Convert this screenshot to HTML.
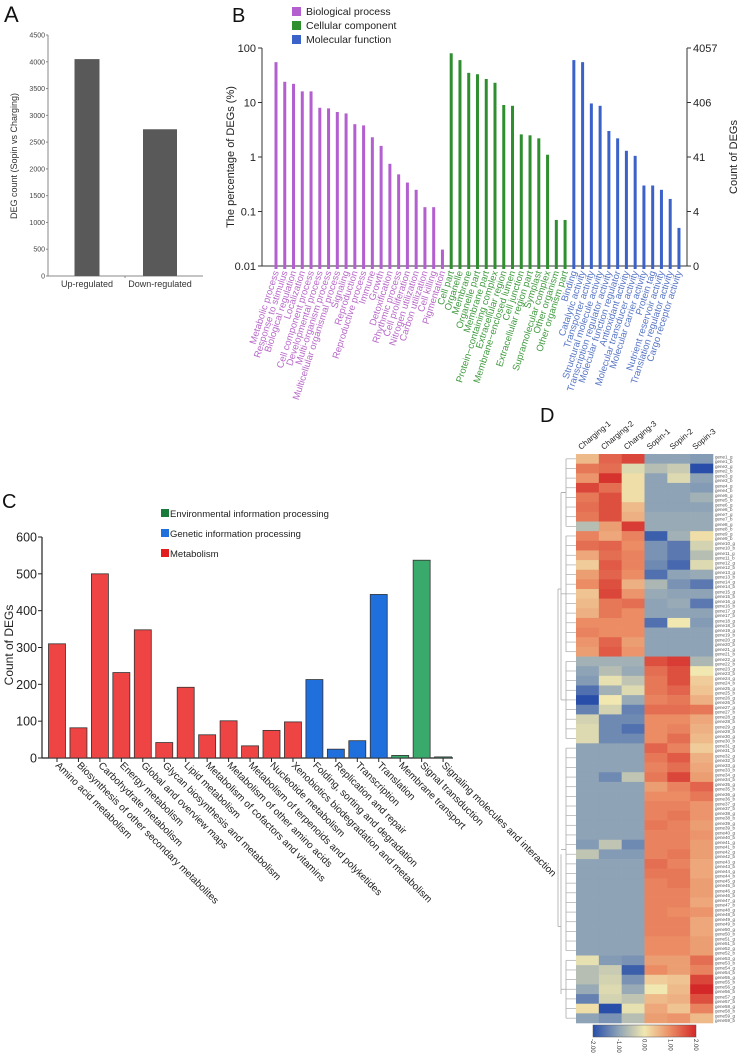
<!DOCTYPE html>
<html><head><meta charset="utf-8">
<style>
html,body{margin:0;padding:0;background:#fff;}
svg{display:block;font-family:"Liberation Sans",Arial,sans-serif;}
</style></head>
<body>
<svg id="fig" width="744" height="1058" viewBox="0 0 744 1058"></svg>
<script>
// ---- Panel A data ----
const aCats = ["Up-regulated","Down-regulated"];
const aVals = [4050, 2740];
const aTicks = [0,500,1000,1500,2000,2500,3000,3500,4000,4500];
// ---- Panel B data ----
const bpNames = ["Metabolic process","Response to stimulus","Biological regulation","Localization","Cell component process","Developmental process","Multi-organism process","Multicellular organismal process","Signaling","Reproduction","Reproductive process","Immune","Growth","Detoxification","Rhythmic process","Cell proliferation","Nitrogen utilization","Carbon utilization","Cell killing","Pigmentation"];
const bpVals = [55,24,22,16,16,8,7.8,6.7,6.3,4,3.8,2.3,1.6,0.75,0.48,0.34,0.25,0.12,0.12,0.02];
const ccNames = ["Cell part","Organelle","Membrane","Organelle part","Membrane part","Protein\u2212containing complex","Extracellular region","Membrane\u2212enclosed lumen","Cell junction","Extracellular region part","Symplast","Supramolecular complex","Other organism","Other organism part"];
const ccVals = [80,60,35,33,27,23,9,8.7,2.6,2.5,2.2,1.1,0.07,0.07];
const mfNames = ["Binding","Catalytic activity","Transporter activity","Structural molecule activity","Transcription regulator activity","Molecular function regulator","Antioxidant activity","Molecular transducer activity","Molecular carrier activity","Protein tag","Nutrient reservoir activity","Translation regulator activity","Cargo receptor activity"];
const mfVals = [60,55,9.6,8.7,3,2.2,1.3,1.05,0.3,0.3,0.25,0.17,0.05];
const bTicks = [0.01,0.1,1,10,100];
const bTickLabels = ["0.01","0.1","1","10","100"];
const bRightLabels = ["0","4","41","406","4057"];
// ---- Panel C data ----
const cNames = ["Amino acid metabolism","Biosynthesis of other secondary metabolites","Carbohydrate metabolism","Energy metabolism","Global and overview maps","Glycan biosynthesis and metabolism","Lipid metabolism","Metabolism of cofactors and vitamins","Metabolism of other amino acids","Metabolism of terpenoids and polyketides","Nucleotide metabolism","Xenobiotics biodegradation and metabolism","Folding, sorting and degradation","Replication and repair","Transcription","Translation","Membrane transport","Signal transduction","Signaling molecules and interaction"];
const cVals = [310,82,500,232,348,42,192,63,101,33,75,98,213,24,47,444,7,537,3];
const cGroups = [2,2,2,2,2,2,2,2,2,2,2,2,1,1,1,1,0,0,0];
const cTicks = [0,100,200,300,400,500,600];
// ---- Panel D data ----
const dCols = ["Charging-1","Charging-2","Charging-3","Sopin-1","Sopin-2","Sopin-3"];
const dRows = [
[0.5,1.4,1.7,-1,-1,-1.1],[1.2,1.3,-0.2,-0.6,-0.4,-2],[0.9,1.9,0.1,-1,-0.2,-1],[1.7,1.3,0.1,-1,-1,-1.1],
[1.2,1.6,0.1,-1,-1,-0.8],[1.3,1.6,0.5,-1,-1,-1],[1.2,1.6,0.6,-0.9,-0.9,-0.9],[-0.6,0.8,1.8,-0.9,-0.9,-0.9],
[1.1,0.7,1.1,-1.8,-0.8,0.1],[1.3,1.4,1.0,-1.2,-1.5,-0.3],[0.7,1.3,1.1,-1.2,-1.5,-0.6],[0.3,1.5,1.1,-1.3,-1.7,-0.2],
[0.8,1.4,1.0,-1.6,-1.0,-0.9],[1.0,1.6,0.6,-0.7,-1.2,-1.5],[0.4,1.7,0.9,-0.9,-1.0,-1.0],[0.5,1.2,1.3,-1.0,-0.9,-1.5],
[0.6,1.2,1.0,-1.0,-1.0,-1.0],[1.0,1.0,1.0,-1.6,0.0,-1.1],[1.1,1.0,1.0,-1.0,-1.0,-1.0],[0.9,1.4,0.8,-1.0,-1.0,-1.0],
[0.8,1.5,0.9,-1.0,-1.0,-1.0],
[-0.8,-0.8,-0.8,1.6,1.8,-0.7],[-1.0,-0.6,-0.9,1.3,1.6,0.0],[-1.1,-0.1,-0.5,1.2,1.6,0.3],[-1.6,-0.8,-0.2,1.2,1.4,0.4],
[-2.0,0.0,-0.9,1.1,1.2,0.6],[-1.4,-0.3,-1.4,1.3,1.3,1.2],[-0.3,-1.3,-1.3,1.0,1.0,0.7],[-0.2,-1.3,-1.6,1.0,1.1,0.6],
[-0.2,-1.3,-1.3,1.0,1.3,0.5],
[-1,-1,-1,1.4,1.1,0.3],[-1,-1,-1,1.2,1.5,0.6],[-1,-1,-1,1.1,1.3,0.7],[-1,-1.3,-0.5,1.2,1.7,0.8],[-1,-1,-1,0.8,1.1,1.4],
[-1,-1,-1,1.0,1.0,1.2],[-1,-1,-1,1.1,1.1,0.9],[-1,-1,-1,1.1,1.2,0.9],[-1,-1,-1,1.2,1.1,0.8],[-1,-1,-1,1.1,1.1,0.9],
[-1.1,-0.5,-1.3,1.1,1.1,0.8],[-0.5,-1.1,-1.1,1.1,1.2,0.8],[-1,-1,-1,1.3,1.1,0.7],[-1,-1,-1,1.2,1.2,0.7],
[-1,-1,-1,1.1,1.2,0.8],[-1,-1,-1,1.1,1.1,0.8],[-1,-1,-1,1.1,1.1,0.7],[-1,-1,-1,1.1,1.0,0.9],[-1,-1,-1,1.1,1.1,0.7],
[-1,-1,-1,1.1,1.1,0.7],[-1,-1,-1,1.0,1.0,0.8],[-1,-1,-1,1.0,1.0,0.8],
[-0.1,-1.1,-1.2,0.8,0.8,1.3],[-0.6,-0.4,-1.8,1.0,0.8,1.1],[-0.6,-0.3,-1.2,0.3,0.4,1.7],[-0.9,-0.2,-0.9,0.0,0.5,2.0],
[-1.4,-0.3,-0.5,0.5,0.6,1.6],[0.1,-2.0,-0.1,0.7,0.4,1.1],[-1.0,-1.2,-0.6,0.8,0.9,0.5]
];
const dScaleLabels = ["-2.00","-1.00","0.00","1.00","2.00"];
const dScaleVals = [-2,-1,0,1,2];

const NS="http://www.w3.org/2000/svg";
const svg=document.getElementById('fig');
function el(tag,attrs,parent,text){const e=document.createElementNS(NS,tag);for(const k in attrs)e.setAttribute(k,attrs[k]);if(text!==undefined)e.textContent=text;(parent||svg).appendChild(e);return e;}

// ===== Panel A =====
(function(){
const g=el('g',{});


const x0=48,x1=203,y0=276,y1=35,vmax=4500;
const Y=v=>y0-(v/vmax)*(y0-y1);
const t=el('text',{x:4,y:22,'font-size':22,fill:'#111'},g,'A');


el('line',{x1:x0,y1:y1,x2:x0,y2:y0,stroke:'#888','stroke-width':1},g);
el('line',{x1:x0,y1:y0,x2:x1,y2:y0,stroke:'#888','stroke-width':1},g);
aTicks.forEach(v=>{
 el('line',{x1:x0-2,y1:Y(v),x2:x0,y2:Y(v),stroke:'#888'},g);
 const tl=el('text',{x:x0-3,y:Y(v)+2.5,'font-size':7,'text-anchor':'end',fill:'#444'},g,String(v));
 
 
});
const centers=[87,160], w=[25,34];
aVals.forEach((v,i)=>{
 const r=el('rect',{x:centers[i]-w[i]/2,y:Y(v),width:w[i],height:y0-Y(v),fill:'#595959'},g);
 
 
 const l=el('text',{x:centers[i],y:287,'font-size':9,'text-anchor':'middle',fill:'#333'},g,aCats[i]);
 
 
});
el('line',{x1:125,y1:y0,x2:125,y2:y0+2,stroke:'#888'},g);
const yl=el('text',{transform:'translate(17,156) rotate(-90)','font-size':9,'text-anchor':'middle',fill:'#333'},g,'DEG count (Sopin vs Charging)');


})();

// ===== Panel B =====
(function(){
const g=el('g',{});


const xa=262,xr=687,yTop=48,yBot=266;
const Y=v=>yBot-(Math.log10(v)+2)/4*(yBot-yTop);
const t=el('text',{x:232,y:22,'font-size':20,fill:'#111'},g,'B');


const legs=[["Biological process","#b35fd0"],["Cellular component","#2f8f2f"],["Molecular function","#3b62c9"]];
legs.forEach((l,i)=>{
 const r=el('rect',{x:292,y:7+i*14,width:9,height:9,fill:l[1]},g);
 
 
 const tx=el('text',{x:306,y:15+i*14,'font-size':10.5,fill:'#222'},g,l[0]);
 
 
});
el('line',{x1:xa,y1:yTop,x2:xa,y2:yBot,stroke:'#333'},g);
el('line',{x1:xr,y1:yTop,x2:xr,y2:yBot,stroke:'#333'},g);
el('line',{x1:xa,y1:yBot,x2:xr,y2:yBot,stroke:'#333'},g);
bTicks.forEach((v,i)=>{
 el('line',{x1:xa-4,y1:Y(v),x2:xa,y2:Y(v),stroke:'#333'},g);
 el('line',{x1:xr,y1:Y(v),x2:xr+4,y2:Y(v),stroke:'#333'},g);
 const a=el('text',{x:xa-6,y:Y(v)+4,'font-size':11,'text-anchor':'end',fill:'#222'},g,bTickLabels[i]);
 
 
 const b=el('text',{x:xr+6,y:Y(v)+4,'font-size':11,fill:'#222'},g,bRightLabels[i]);
 
 
});
const yl=el('text',{transform:'translate(234,157) rotate(-90)','font-size':11,'text-anchor':'middle',fill:'#222'},g,'The percentage of DEGs (%)');


const yr=el('text',{transform:'translate(737,157) rotate(-90)','font-size':11,'text-anchor':'middle',fill:'#222'},g,'Count of DEGs');


const all=[[bpNames,bpVals,"#b35fd0","#b767c8"],[ccNames,ccVals,"#2f8f2f","#3f9a3f"],[mfNames,mfVals,"#3b62c9","#5574c4"]];
let idx=0;const step=8.76,x0=276;
all.forEach(grp=>{
 grp[0].forEach((n,i)=>{
  const cx=x0+idx*step,v=grp[1][i];
  const r=el('rect',{x:cx-1.5,y:Y(v),width:3,height:yBot-Y(v),fill:grp[2]},g);
  
  
  el('line',{x1:cx,y1:yBot,x2:cx,y2:yBot+3,stroke:grp[2],'stroke-width':3},g);
  const l=el('text',{transform:`translate(${cx+3},${yBot+6}) rotate(-72)`,'font-size':9.5,'text-anchor':'end',fill:grp[3]},g,n);
  
  
  idx++;
 });
});
})();

// ===== Panel C =====
(function(){
const g=el('g',{});


const xa=42,xe=453,y0=758,yTop=537,vmax=600;
const Y=v=>y0-(v/vmax)*(y0-yTop);
const t=el('text',{x:2,y:508,'font-size':20,fill:'#111'},g,'C');


const cols=["#3aaa6c","#1f6fdc","#ef4444"];
const legs=[["Environmental information processing","#1a7a3a"],["Genetic information processing","#1f6fdc"],["Metabolism","#e21d1d"]];
legs.forEach((l,i)=>{
 const r=el('rect',{x:161,y:509+i*20,width:8,height:8,fill:l[1]},g);
 
 
 const tx=el('text',{x:170,y:517+i*20,'font-size':9.5,fill:'#222'},g,l[0]);
 
 
});
el('line',{x1:xa,y1:yTop,x2:xa,y2:y0,stroke:'#222','stroke-width':1.2},g);
el('line',{x1:xa,y1:y0,x2:xe,y2:y0,stroke:'#222','stroke-width':1.2},g);
cTicks.forEach(v=>{
 el('line',{x1:xa-4,y1:Y(v),x2:xa,y2:Y(v),stroke:'#222'},g);
 const a=el('text',{x:xa-5,y:Y(v)+4.5,'font-size':12.5,'text-anchor':'end',fill:'#222'},g,String(v));
 
 
});
const yl=el('text',{transform:'translate(13,645) rotate(-90)','font-size':12,'text-anchor':'middle',fill:'#222'},g,'Count of DEGs');


const step=21.45,c0=57,bw=17;
cVals.forEach((v,i)=>{
 const cx=c0+i*step;
 const r=el('rect',{x:cx-bw/2,y:Y(v),width:bw,height:y0-Y(v),fill:cols[cGroups[i]],stroke:'#333','stroke-width':0.8},g);
 
 
 el('line',{x1:cx,y1:y0,x2:cx,y2:y0+4,stroke:'#222'},g);
 const l=el('text',{transform:`translate(${cx-2},${y0+8}) rotate(45)`,'font-size':10,fill:'#222'},g,cNames[i]);
 
 
});
})();

// ===== Panel D =====
(function(){
const g=el('g',{});


const t=el('text',{x:540,y:422,'font-size':20,fill:'#111'},g,'D');


const hx=576,hw=137,hy=454,hh=569;
const cw=hw/dCols.length,rh=hh/dRows.length;
const stops=[[-2,[40,78,170]],[-1,[142,163,182]],[0,[241,231,176]],[1,[235,140,100]],[2,[212,40,40]]];
function color(v){v=Math.max(-2,Math.min(2,v));for(let i=0;i<stops.length-1;i++){const a=stops[i],b=stops[i+1];if(v<=b[0]){const f=(v-a[0])/(b[0]-a[0]);const c=a[1].map((x,k)=>Math.round(x+(b[1][k]-x)*f));return `rgb(${c.join(',')})`;}}return 'rgb(212,40,40)';}
dCols.forEach((c,j)=>{
 const l=el('text',{transform:`translate(${hx+cw*j+5},${hy-4}) rotate(-40)`,'font-size':8,fill:'#222'},g,c);
 
 
});
dRows.forEach((row,i)=>{
 row.forEach((v,j)=>{
  const r=el('rect',{x:hx+cw*j,y:hy+rh*i,width:cw+0.3,height:rh+0.3,fill:color(v)},g);
  
  
 });
 const yc=hy+rh*(i+0.5);
 el('line',{x1:566,y1:yc,x2:hx,y2:yc,stroke:'#aaa','stroke-width':0.7},g);
 const gl=el('text',{x:715,y:yc-0.5,'font-size':4.5,fill:'#555'},g,'gene'+(i+1)+'_g');
 
 
 const gl2=el('text',{x:715,y:yc+4,'font-size':4.5,fill:'#555'},g,'gene'+(i+1)+'_b');
 
 
});
// dendrogram brackets
const groups=[[0,7],[8,20],[21,29],[30,51],[52,58]];
groups.forEach(gr=>{
 el('line',{x1:566,y1:hy+rh*(gr[0]+0.5),x2:566,y2:hy+rh*(gr[1]+0.5),stroke:'#aaa','stroke-width':0.8},g);
 el('line',{x1:561,y1:hy+rh*(gr[0]+gr[1]+1)/2,x2:566,y2:hy+rh*(gr[0]+gr[1]+1)/2,stroke:'#aaa','stroke-width':0.8},g);
});
el('line',{x1:561,y1:hy+rh*4,x2:561,y2:hy+rh*25.5,stroke:'#aaa','stroke-width':0.8},g);
el('line',{x1:561,y1:hy+rh*41.5,x2:561,y2:hy+rh*56,stroke:'#aaa','stroke-width':0.8},g);
el('line',{x1:558,y1:hy+rh*14,x2:558,y2:hy+rh*49,stroke:'#aaa','stroke-width':0.8},g);
el('line',{x1:558,y1:hy+rh*14,x2:561,y2:hy+rh*14,stroke:'#aaa','stroke-width':0.8},g);
el('line',{x1:558,y1:hy+rh*49,x2:561,y2:hy+rh*49,stroke:'#aaa','stroke-width':0.8},g);
el('line',{x1:561,y1:hy+rh*4,x2:566,y2:hy+rh*4,stroke:'#aaa','stroke-width':0.8},g);
// color scale
const sx=593,sw=103,sy=1025,sh=12;
const defs=el('defs',{},g);
const lg=el('linearGradient',{id:'cs',x1:0,y1:0,x2:1,y2:0},defs);
dScaleVals.forEach((v,i)=>el('stop',{offset:(i/(dScaleVals.length-1)),'stop-color':color(v)},lg));
const cb=el('rect',{x:sx,y:sy,width:sw,height:sh,fill:'url(#cs)',stroke:'#555','stroke-width':0.5},g);


dScaleLabels.forEach((s,i)=>{
 const x=sx+sw*(dScaleVals[i]+2)/4;
 const l=el('text',{transform:`translate(${x-2},${sy+sh+2}) rotate(90)`,'font-size':6,fill:'#333'},g,s);
 
 
});
})();
</script>
</body></html>
